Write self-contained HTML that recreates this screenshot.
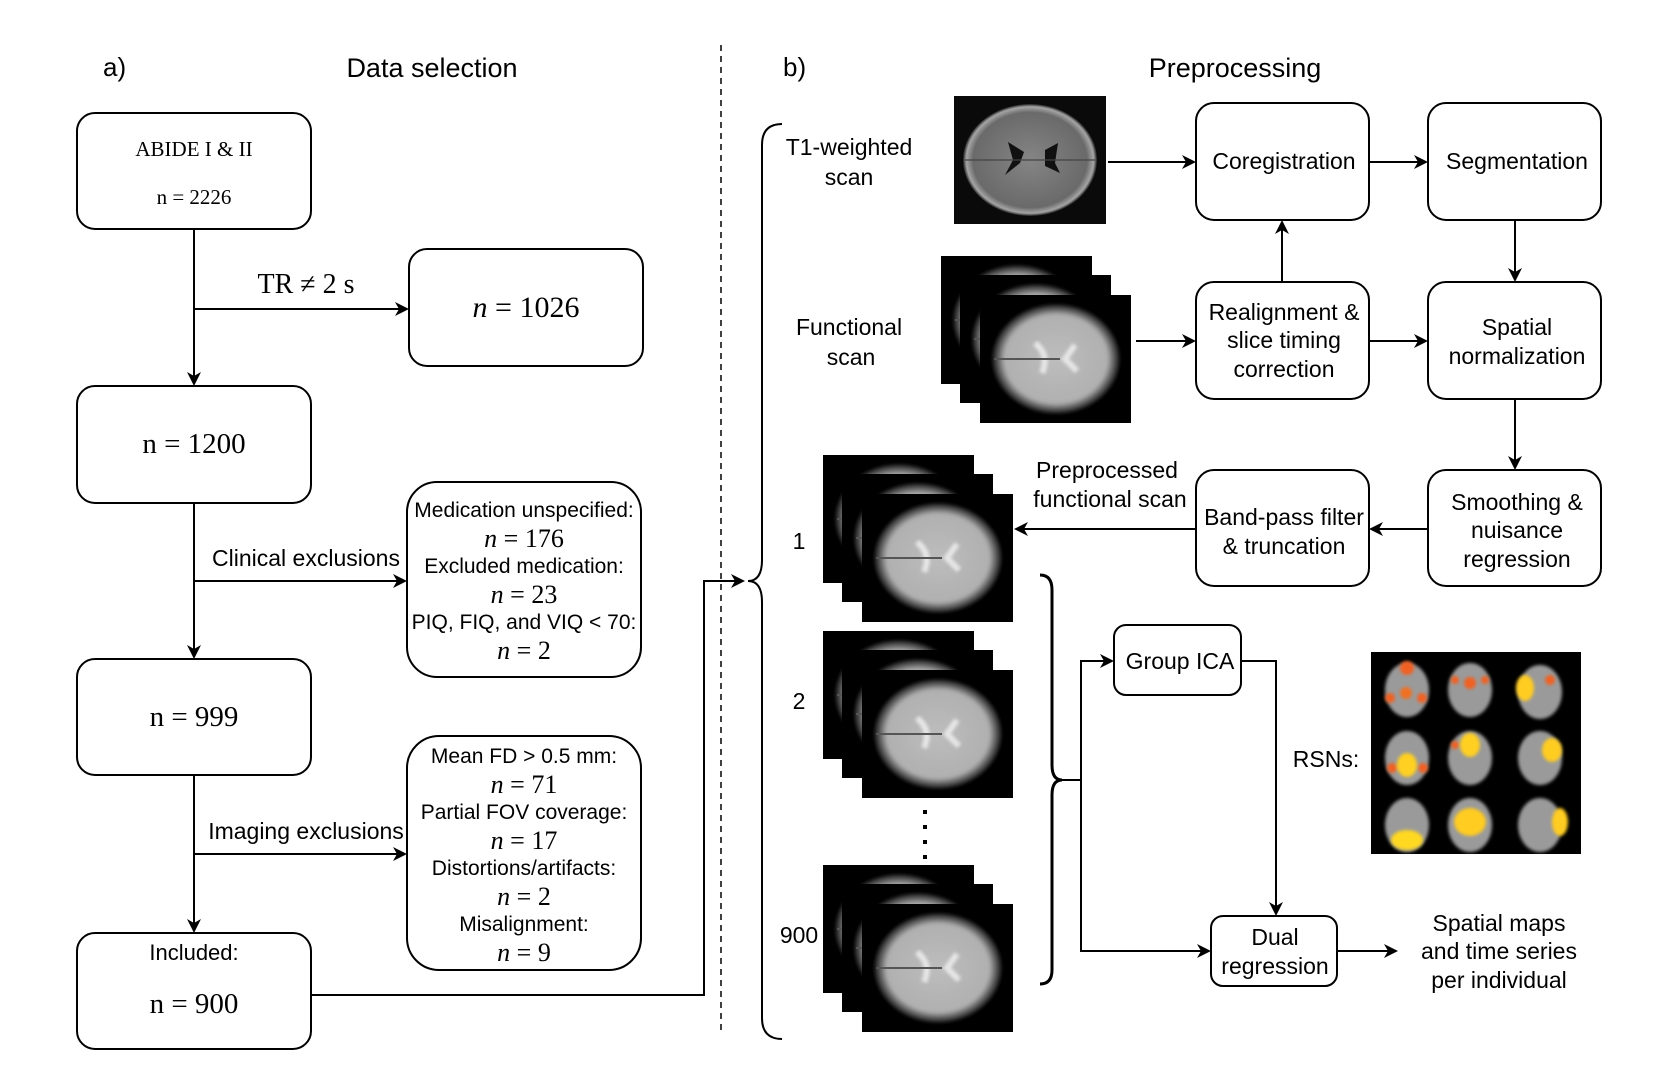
<!DOCTYPE html>
<html><head><meta charset="utf-8"><style>
html,body{margin:0;padding:0;background:#fff;}
svg{display:block;}
.s{font-family:"Liberation Sans",sans-serif;fill:#000;}
.m{font-family:"Liberation Serif",serif;fill:#000;}
</style></head><body>
<svg width="1661" height="1085" viewBox="0 0 1661 1085" xmlns="http://www.w3.org/2000/svg">
<defs>
<marker id="ar" markerWidth="14" markerHeight="14" refX="12" refY="7" orient="auto" markerUnits="userSpaceOnUse">
<path d="M0,0 L14,7 L0,14 L4,7 Z" fill="#000"/></marker>
<radialGradient id="gT1" cx="50%" cy="50%" r="50%">
<stop offset="0" stop-color="#858585"/><stop offset="0.85" stop-color="#6a6a6a"/><stop offset="0.95" stop-color="#a5a5a5"/><stop offset="1" stop-color="#222"/></radialGradient>
<radialGradient id="gF" cx="50%" cy="50%" r="50%">
<stop offset="0" stop-color="#bdbdbd"/><stop offset="0.8" stop-color="#b0b0b0"/><stop offset="1" stop-color="#111"/></radialGradient>
<filter id="bl"><feGaussianBlur stdDeviation="1.5"/></filter>
<g id="fb">
<rect width="151" height="128" fill="#000"/>
<ellipse cx="76" cy="64" rx="64" ry="55" fill="url(#gF)" filter="url(#bl)"/>
<path d="M55,48 Q70,60 62,78 M95,50 L85,64 L97,76" stroke="#e6e6e6" stroke-width="6" fill="none" filter="url(#bl)"/>
<line x1="14" y1="64" x2="80" y2="64" stroke="#555" stroke-width="2"/>
</g>
<g id="stack">
<use href="#fb" x="0" y="0"/>
<use href="#fb" x="19" y="19"/>
<use href="#fb" x="39" y="39"/>
</g>
<g id="rb">
<ellipse cx="0" cy="0" rx="22" ry="27" fill="#9a9a9a" filter="url(#bl)"/>
</g>
</defs>

<text class="s" x="103" y="76" font-size="26">a)</text>
<text class="s" x="432" y="77" font-size="27" text-anchor="middle">Data selection</text>
<text class="s" x="783" y="76" font-size="26">b)</text>
<text class="s" x="1235" y="77" font-size="27" text-anchor="middle">Preprocessing</text>
<line x1="721" y1="45" x2="721" y2="1035" stroke="#000" stroke-width="1.5" stroke-dasharray="6,5"/>

<g fill="none" stroke="#000" stroke-width="2">
<rect x="77" y="113" width="234" height="116" rx="18"/>
<rect x="409" y="249" width="234" height="117" rx="18"/>
<rect x="77" y="386" width="234" height="117" rx="18"/>
<rect x="407" y="482" width="234" height="195" rx="30"/>
<rect x="77" y="659" width="234" height="116" rx="18"/>
<rect x="407" y="736" width="234" height="234" rx="32"/>
<rect x="77" y="933" width="234" height="116" rx="18"/>
</g>
<g stroke="#000" stroke-width="2" fill="none">
<line x1="194" y1="229" x2="194" y2="384" marker-end="url(#ar)"/>
<line x1="194" y1="309" x2="407" y2="309" marker-end="url(#ar)"/>
<line x1="194" y1="503" x2="194" y2="657" marker-end="url(#ar)"/>
<line x1="194" y1="581" x2="405" y2="581" marker-end="url(#ar)"/>
<line x1="194" y1="775" x2="194" y2="931" marker-end="url(#ar)"/>
<line x1="194" y1="854" x2="405" y2="854" marker-end="url(#ar)"/>
<polyline points="311,995 704,995 704,581 743,581" marker-end="url(#ar)"/>
</g>
<text class="m" x="194" y="156" font-size="21" text-anchor="middle">ABIDE I &amp; II</text>
<text class="m" x="194" y="204" font-size="21" text-anchor="middle">n = 2226</text>
<text class="m" x="306" y="293" font-size="28" text-anchor="middle">TR ≠ 2 s</text>
<text class="m" x="526" y="317" font-size="30" text-anchor="middle"><tspan font-style="italic">n</tspan> = 1026</text>
<text class="m" x="194" y="453" font-size="29" text-anchor="middle">n = 1200</text>
<text class="s" x="306" y="566" font-size="23" text-anchor="middle">Clinical exclusions</text>
<g text-anchor="middle">
<text class="s" x="524" y="517" font-size="21">Medication unspecified:</text>
<text class="m" x="524" y="547" font-size="26"><tspan font-style="italic">n</tspan> = 176</text>
<text class="s" x="524" y="573" font-size="21">Excluded medication:</text>
<text class="m" x="524" y="603" font-size="26"><tspan font-style="italic">n</tspan> = 23</text>
<text class="s" x="524" y="629" font-size="21">PIQ, FIQ, and VIQ &lt; 70:</text>
<text class="m" x="524" y="659" font-size="26"><tspan font-style="italic">n</tspan> = 2</text>
</g>
<text class="m" x="194" y="726" font-size="29" text-anchor="middle">n = 999</text>
<text class="s" x="306" y="839" font-size="23" text-anchor="middle">Imaging exclusions</text>
<g text-anchor="middle">
<text class="s" x="524" y="763" font-size="21">Mean FD &gt; 0.5 mm:</text>
<text class="m" x="524" y="793" font-size="26"><tspan font-style="italic">n</tspan> = 71</text>
<text class="s" x="524" y="819" font-size="21">Partial FOV coverage:</text>
<text class="m" x="524" y="849" font-size="26"><tspan font-style="italic">n</tspan> = 17</text>
<text class="s" x="524" y="875" font-size="21">Distortions/artifacts:</text>
<text class="m" x="524" y="905" font-size="26"><tspan font-style="italic">n</tspan> = 2</text>
<text class="s" x="524" y="931" font-size="21">Misalignment:</text>
<text class="m" x="524" y="961" font-size="26"><tspan font-style="italic">n</tspan> = 9</text>
</g>
<text class="s" x="194" y="960" font-size="22" text-anchor="middle">Included:</text>
<text class="m" x="194" y="1013" font-size="29" text-anchor="middle">n = 900</text>

<path d="M782,124 Q762,124 762,145 L762,560 Q762,581 748,581 Q762,581 762,602 L762,1018 Q762,1039 782,1039" fill="none" stroke="#000" stroke-width="2"/>

<g class="s" font-size="23" text-anchor="middle">
<text x="849" y="155">T1-weighted</text>
<text x="849" y="185">scan</text>
<text x="849" y="335">Functional</text>
<text x="851" y="365">scan</text>
</g>

<rect x="954" y="96" width="152" height="128" fill="#0a0a0a"/>
<ellipse cx="1030" cy="160" rx="67" ry="56" fill="url(#gT1)"/>
<path d="M1008,142 L1024,152 L1020,163 L1005,175 L1013,160 Z M1045,150 L1058,143 L1055,163 L1060,173 L1045,166 Z" fill="#111"/>
<line x1="965" y1="160" x2="1095" y2="160" stroke="#444" stroke-width="1.2"/>

<use href="#stack" x="941" y="256"/>
<use href="#stack" x="823" y="455"/>
<use href="#stack" x="823" y="631"/>
<use href="#stack" x="823" y="865"/>

<g fill="none" stroke="#000" stroke-width="2">
<rect x="1196" y="103" width="173" height="117" rx="18"/>
<rect x="1428" y="103" width="173" height="117" rx="18"/>
<rect x="1196" y="282" width="173" height="117" rx="18"/>
<rect x="1428" y="282" width="173" height="117" rx="18"/>
<rect x="1196" y="470" width="173" height="116" rx="18"/>
<rect x="1428" y="470" width="173" height="116" rx="18"/>
<rect x="1114" y="625" width="127" height="70" rx="12"/>
<rect x="1211" y="916" width="126" height="70" rx="12"/>
</g>
<g stroke="#000" stroke-width="2" fill="none">
<line x1="1108" y1="162" x2="1194" y2="162" marker-end="url(#ar)"/>
<line x1="1369" y1="162" x2="1426" y2="162" marker-end="url(#ar)"/>
<line x1="1515" y1="220" x2="1515" y2="280" marker-end="url(#ar)"/>
<line x1="1282" y1="282" x2="1282" y2="222" marker-end="url(#ar)"/>
<line x1="1136" y1="341" x2="1194" y2="341" marker-end="url(#ar)"/>
<line x1="1369" y1="341" x2="1426" y2="341" marker-end="url(#ar)"/>
<line x1="1515" y1="399" x2="1515" y2="468" marker-end="url(#ar)"/>
<line x1="1428" y1="529" x2="1371" y2="529" marker-end="url(#ar)"/>
<line x1="1196" y1="529" x2="1016" y2="529" marker-end="url(#ar)"/>
<line x1="1061" y1="780" x2="1081" y2="780"/>
<polyline points="1112,661 1081,661 1081,951 1209,951" marker-end="url(#ar)"/>
<line x1="1081" y1="661" x2="1112" y2="661" marker-end="url(#ar)"/>
<polyline points="1241,661 1276,661 1276,914" marker-end="url(#ar)"/>
<line x1="1337" y1="951" x2="1396" y2="951" marker-end="url(#ar)"/>
</g>
<path d="M1040,575 Q1052,575 1052,590 L1052,765 Q1052,780 1062,780 Q1052,780 1052,795 L1052,970 Q1052,984 1040,984" fill="none" stroke="#000" stroke-width="3"/>
<g fill="#000"><rect x="923" y="810" width="4" height="4"/><rect x="923" y="825" width="4" height="4"/><rect x="923" y="840" width="4" height="4"/><rect x="923" y="855" width="4" height="4"/></g>

<g class="s" font-size="23" text-anchor="middle">
<text x="1284" y="169">Coregistration</text>
<text x="1517" y="169">Segmentation</text>
<text x="1284" y="320">Realignment &amp;</text>
<text x="1284" y="348">slice timing</text>
<text x="1284" y="377">correction</text>
<text x="1517" y="335">Spatial</text>
<text x="1517" y="364">normalization</text>
<text x="1284" y="525">Band-pass filter</text>
<text x="1284" y="554">&amp; truncation</text>
<text x="1517" y="510">Smoothing &amp;</text>
<text x="1517" y="538">nuisance</text>
<text x="1517" y="567">regression</text>
<text x="1107" y="478">Preprocessed</text>
<text x="1110" y="507">functional scan</text>
<text x="1180" y="669">Group ICA</text>
<text x="1275" y="945">Dual</text>
<text x="1275" y="974">regression</text>
<text x="1499" y="931">Spatial maps</text>
<text x="1499" y="959">and time series</text>
<text x="1499" y="988">per individual</text>
<text x="799" y="549">1</text>
<text x="799" y="709">2</text>
<text x="799" y="943">900</text>
<text x="1326" y="767">RSNs:</text>
</g>

<rect x="1371" y="652" width="210" height="202" fill="#000"/>
<g>
<use href="#rb" x="1407" y="690"/><use href="#rb" x="1470" y="690"/><use href="#rb" x="1540" y="692"/>
<use href="#rb" x="1407" y="758"/><use href="#rb" x="1470" y="758"/><use href="#rb" x="1540" y="758"/>
<use href="#rb" x="1407" y="825"/><use href="#rb" x="1470" y="825"/><use href="#rb" x="1540" y="825"/>
</g>
<g filter="url(#bl)">
<circle cx="1407" cy="668" r="7" fill="#f06020"/><circle cx="1406" cy="693" r="6" fill="#f07020"/><circle cx="1390" cy="698" r="5" fill="#f06020"/><circle cx="1422" cy="698" r="5" fill="#f06020"/>
<circle cx="1470" cy="683" r="6" fill="#f06020"/><circle cx="1455" cy="680" r="4" fill="#f06020"/><circle cx="1485" cy="680" r="4" fill="#f06020"/>
<ellipse cx="1525" cy="688" rx="9" ry="13" fill="#ffcc20"/><circle cx="1550" cy="680" r="5" fill="#f06020"/>
<ellipse cx="1407" cy="765" rx="10" ry="12" fill="#ffd020"/><circle cx="1392" cy="768" r="5" fill="#f06020"/><circle cx="1423" cy="768" r="5" fill="#f06020"/>
<ellipse cx="1470" cy="745" rx="10" ry="12" fill="#ffd020"/><circle cx="1455" cy="745" r="4" fill="#f06020"/>
<ellipse cx="1552" cy="750" rx="10" ry="12" fill="#ffcc20"/>
<ellipse cx="1407" cy="840" rx="16" ry="10" fill="#ffd820"/>
<ellipse cx="1470" cy="822" rx="16" ry="14" fill="#ffcc20"/>
<ellipse cx="1560" cy="822" rx="8" ry="14" fill="#ffcc20"/>
</g>
</svg>
</body></html>
